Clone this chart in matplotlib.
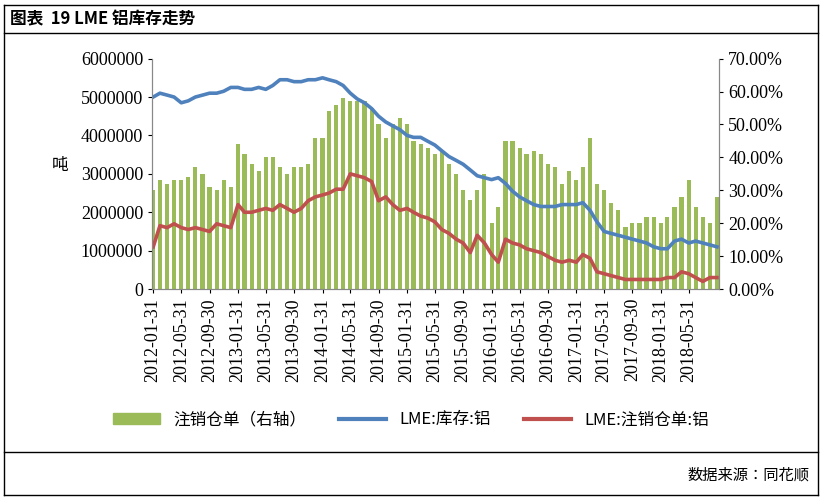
import matplotlib
matplotlib.use("Agg")
import matplotlib.pyplot as plt
import numpy as np
import pandas as pd
from matplotlib import font_manager
from matplotlib.ft2font import FT2Font
from matplotlib.ticker import FuncFormatter


def pick_cjk_font():
    # find an installed font that really has the simplified glyphs
    for f in font_manager.fontManager.ttflist:
        if "CJK" not in f.name:
            continue
        try:
            ft = FT2Font(f.fname)
            if all(ft.get_char_index(ord(c)) for c in "铝库存注销仓单顺"):
                return f.name
        except Exception:
            continue
    return "Noto Sans CJK SC"


cjk = pick_cjk_font()
plt.rcParams["font.family"] = ["Liberation Serif", cjk]

months = pd.date_range("2012-01-31", "2018-09-30", freq="ME")

inventory = [5.0, 5.1, 5.05, 5.0, 4.85, 4.9, 5.0, 5.05, 5.1, 5.1, 5.15, 5.25,
             5.25, 5.2, 5.2, 5.25, 5.2, 5.3, 5.45, 5.45, 5.4, 5.4, 5.45, 5.45,
             5.5, 5.45, 5.4, 5.3, 5.1, 4.95, 4.85, 4.7, 4.5, 4.35, 4.25, 4.15,
             4.0, 3.95, 3.95, 3.85, 3.75, 3.6, 3.45, 3.35, 3.25, 3.1, 2.95, 2.9,
             2.85, 2.9, 2.75, 2.55, 2.4, 2.3, 2.2, 2.15, 2.15, 2.15, 2.2, 2.2,
             2.2, 2.25, 2.05, 1.75, 1.5, 1.45, 1.4, 1.35, 1.3, 1.25, 1.2, 1.1,
             1.05, 1.05, 1.25, 1.3, 1.2, 1.25, 1.2, 1.15, 1.1]
cancelled = [1.1, 1.65, 1.6, 1.7, 1.6, 1.55, 1.6, 1.55, 1.5, 1.7, 1.65, 1.6,
             2.2, 2.0, 2.0, 2.05, 2.1, 2.05, 2.2, 2.1, 2.0, 2.1, 2.3, 2.4,
             2.45, 2.5, 2.6, 2.6, 3.0, 2.95, 2.9, 2.8, 2.3, 2.4, 2.2, 2.05,
             2.1, 2.0, 1.9, 1.85, 1.75, 1.55, 1.45, 1.3, 1.2, 0.95, 1.4, 1.2,
             0.9, 0.7, 1.3, 1.2, 1.15, 1.05, 1.0, 0.95, 0.85, 0.75, 0.7, 0.75,
             0.7, 0.9, 0.8, 0.45, 0.4, 0.35, 0.3, 0.25, 0.25, 0.25, 0.25, 0.25,
             0.25, 0.3, 0.3, 0.45, 0.4, 0.3, 0.2, 0.3, 0.3]
ratio_pct = [30, 33, 32, 33, 33, 34, 37, 35, 31, 30, 33, 31,
             44, 41, 38, 36, 40, 40, 37, 35, 37, 37, 38, 46,
             46, 54, 56, 58, 57, 57, 57, 55, 50, 46, 50, 52,
             50, 45, 44, 43, 41, 42, 38, 35, 30, 27, 30, 35,
             20, 25, 45, 45, 43, 41, 42, 41, 38, 37, 32, 36,
             33, 37, 46, 32, 30, 26, 24, 19, 20, 20, 22, 22,
             20, 22, 25, 28, 33, 25, 22, 20, 28]
tick_dates = pd.date_range("2012-01-31", "2018-05-31", freq="4ME")

fig = plt.figure(figsize=(8.22, 5.01), dpi=100)
ax = fig.add_axes([0.185, 0.423, 0.69, 0.46])
ax2 = ax.twinx()
ax.set_zorder(2)
ax.patch.set_visible(False)

ax2.bar(months, np.array(ratio_pct) / 100, width=18, color="#9bbb59", zorder=1)
ax.plot(months, np.array(inventory) * 1e6, color="#4f81bd", lw=2.6)
ax.plot(months, np.array(cancelled) * 1e6, color="#c0504d", lw=2.6)

ax.set_ylim(0, 6000000)
ax.set_yticks(range(0, 6000001, 1000000))
ax.yaxis.set_major_formatter(FuncFormatter(lambda v, p: f"{int(v)}"))
ax2.set_ylim(0, 0.7)
ax2.set_yticks(np.arange(0, 0.71, 0.1))
ax2.yaxis.set_major_formatter(FuncFormatter(lambda v, p: f"{v*100:.2f}%"))
ax.set_xlim(months[0] - pd.Timedelta(days=5), months[-1] + pd.Timedelta(days=10))
ax.set_xticks(tick_dates)
ax.set_xticklabels([d.strftime("%Y-%m-%d") for d in tick_dates], rotation=90)
ax.set_ylabel("吨", rotation=0, labelpad=15, fontsize=12, family=cjk)
for a in (ax, ax2):
    a.tick_params(labelsize=13, length=3)
    a.spines["top"].set_visible(False)
    for s in ("left", "right", "bottom"):
        a.spines[s].set_color("#888888")

h1 = plt.Rectangle((0, 0), 1, 1, color="#9bbb59")
h2, = ax.plot([], [], color="#4f81bd", lw=3)
h3, = ax.plot([], [], color="#c0504d", lw=3)
fig.legend([h1, h2, h3], ["注销仓单（右轴）", "LME:库存:铝", "LME:注销仓单:铝"],
           loc="center", bbox_to_anchor=(0.5, 0.162), ncol=3, frameon=False,
           prop={"family": cjk, "size": 12}, handlelength=2.8, columnspacing=2)

# frame lines
for y in (0.99, 0.935, 0.097, 0.012):
    fig.add_artist(plt.Line2D([0.005, 0.995], [y, y], color="black", lw=1))
for x in (0.005, 0.995):
    fig.add_artist(plt.Line2D([x, x], [0.012, 0.99], color="black", lw=1))
fig.text(0.012, 0.962, "图表  19 LME 铝库存走势", fontsize=12, fontweight="bold",
         va="center", family=cjk)
fig.text(0.985, 0.052, "数据来源：同花顺", fontsize=11, ha="right", va="center", family=cjk)

fig.savefig("out.png", dpi=100)
